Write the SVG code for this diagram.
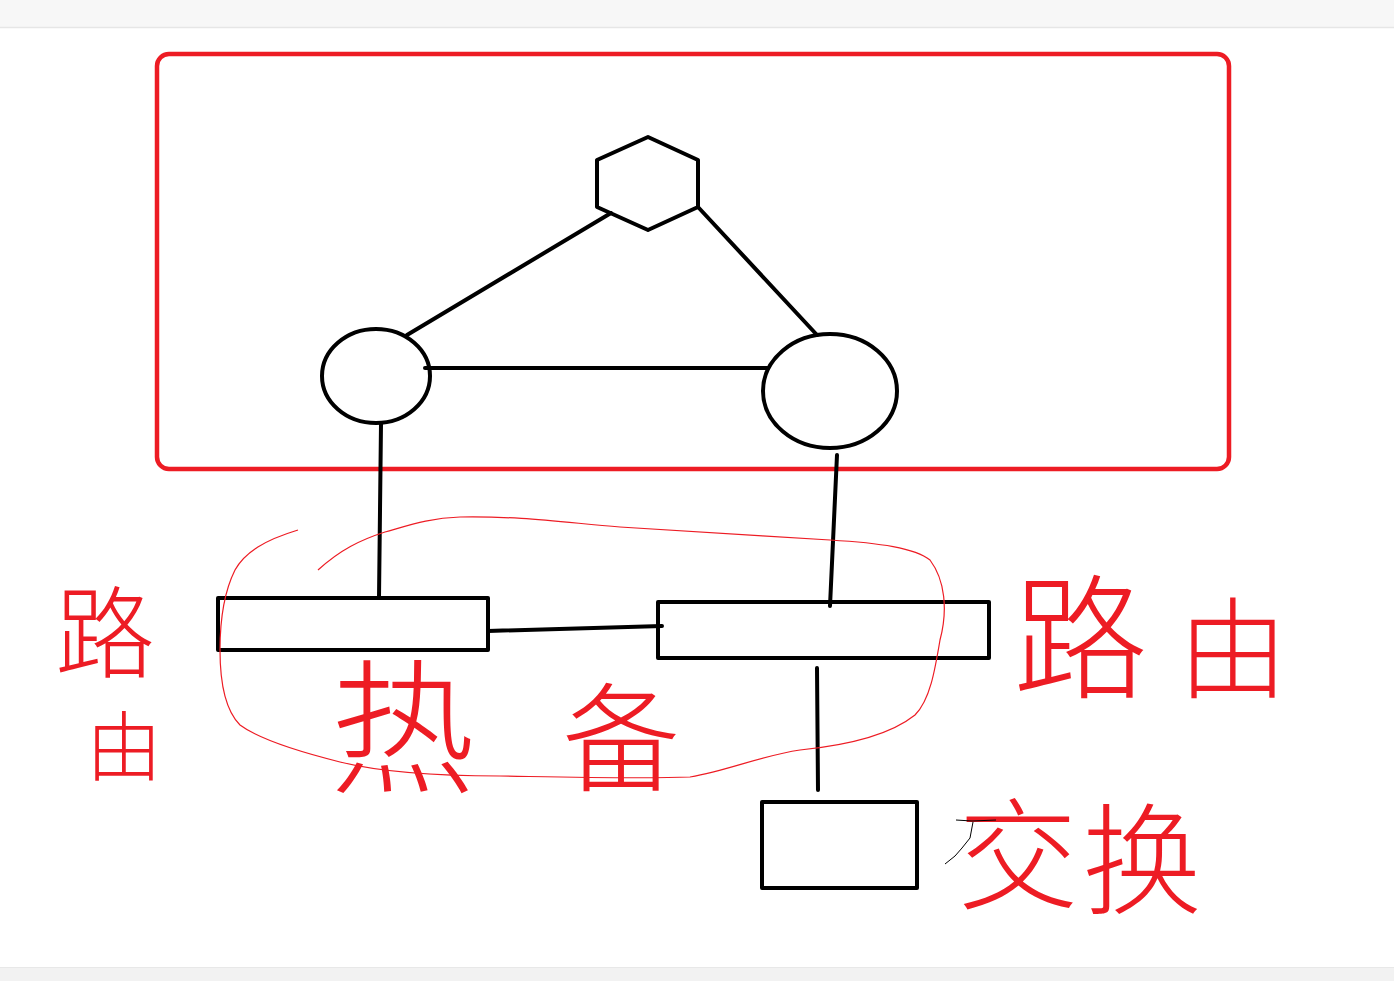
<svg xmlns="http://www.w3.org/2000/svg" width="1394" height="981" viewBox="0 0 1394 981">
<style>
.k{fill:none;stroke:#000;stroke-width:4;stroke-linejoin:round;stroke-linecap:round}
.r{fill:none;stroke:#ed1c24}
.t{fill:#ed1c24;font-family:"Noto Sans CJK SC","Noto Sans CJK JP",sans-serif;font-weight:300}
</style>
<rect x="0" y="0" width="1394" height="981" fill="#fff"/>
<rect x="0" y="0" width="1394" height="27" fill="#f7f7f7"/>
<line x1="0" y1="27.5" x2="1394" y2="27.5" stroke="#e6e6e6" stroke-width="1.5"/>
<rect x="0" y="968" width="1394" height="13" fill="#f2f2f2"/>
<line x1="0" y1="967.5" x2="1394" y2="967.5" stroke="#e8e8e8" stroke-width="1"/>

<g id="group-frame"><rect class="r" x="157" y="54" width="1072" height="415" rx="12" stroke-width="4.5"/></g>

<g id="connectors">
<line class="k" x1="611" y1="213" x2="407" y2="335"/>
<line class="k" x1="698" y1="207" x2="817" y2="335"/>
<line class="k" x1="425" y1="368" x2="768" y2="368"/>
<line class="k" x1="381" y1="424" x2="379" y2="598"/>
<line class="k" x1="837" y1="455" x2="830" y2="606"/>
<line class="k" x1="488" y1="631" x2="662" y2="626"/>
<line class="k" x1="817" y1="668" x2="818" y2="790"/>
</g>

<g id="hexagon"><polygon class="k" points="597,160 648,137 698,160 698,207 648,230 597,207"/></g>
<g id="circle-left"><ellipse class="k" cx="376" cy="376" rx="54" ry="47"/></g>
<g id="circle-right"><ellipse class="k" cx="830" cy="391" rx="67" ry="57"/></g>
<g id="rect-left"><rect class="k" x="218" y="598" width="270" height="52"/></g>
<g id="rect-right"><rect class="k" x="658" y="602" width="331" height="56"/></g>
<g id="rect-bottom"><rect class="k" x="762" y="802" width="155" height="86"/></g>

<g id="hot-standby-loop"><path class="r" stroke-width="1.2" d="M318,570 C340,550 360,540 385,532 C410,525 430,518 460,517 C520,516 560,522 620,527 C700,532 760,536 830,540 C880,543 915,548 930,560 C945,580 948,610 940,640 C935,670 930,700 915,715 C890,735 850,745 800,750 C760,756 730,770 690,777 C640,779 560,777 500,776 C440,776 380,772 340,762 C300,752 260,740 240,725 C225,710 220,680 220,650 C220,620 225,590 235,570 C245,552 265,540 298,530"/></g>

<g id="labels">
<text class="t" x="55" y="670" font-size="100">路</text>
<text class="t" x="86" y="775" font-size="76">由</text>
<text class="t" x="330" y="782" font-size="145">热</text>
<text class="t" x="562" y="782" font-size="118">备</text>
<text class="t" x="1013" y="688" font-size="135">路</text>
<text class="t" x="1178" y="690" font-size="110">由</text>
<text class="t" x="958" y="900" font-size="120">交</text>
<text class="t" x="1082" y="905" font-size="120">换</text>
</g>
<path d="M956,820 L972,821 L996,820 M973,822 L970,838 L962,848 L955,856 L945,864" fill="none" stroke="#000" stroke-width="1"/>
</svg>
